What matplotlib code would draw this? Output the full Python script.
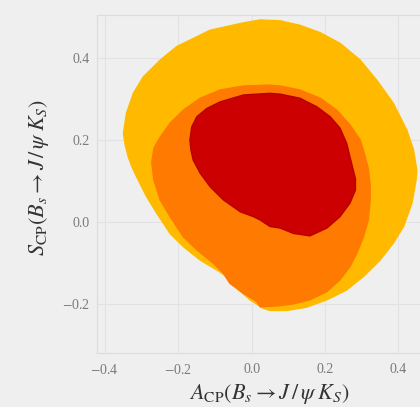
import numpy as np
import matplotlib
matplotlib.use("Agg")
from matplotlib import pyplot as plt

# contour outlines, as (A_CP, S_CP) pairs, clockwise
outer_x = [0.023, 0.078, 0.132, 0.187, 0.241, 0.296, 0.341, 0.386, 0.423, 0.441, 0.450, 0.448, 0.437,
           0.414, 0.386, 0.350, 0.305, 0.259, 0.205, 0.150, 0.096, 0.050, 0.032, -0.004, -0.040, -0.068,
           -0.095, -0.140, -0.186, -0.222, -0.258, -0.286, -0.313, -0.326, -0.336, -0.344, -0.349, -0.341,
           -0.322, -0.295, -0.249, -0.204, -0.113, -0.022]
outer_y = [0.493, 0.491, 0.480, 0.462, 0.436, 0.395, 0.346, 0.290, 0.224, 0.176, 0.127, 0.102, 0.046,
           -0.011, -0.052, -0.093, -0.133, -0.166, -0.190, -0.208, -0.216, -0.216, -0.211, -0.190, -0.162,
           -0.133, -0.117, -0.093, -0.060, -0.028, 0.021, 0.062, 0.110, 0.135, 0.159, 0.187, 0.216, 0.265,
           0.314, 0.354, 0.395, 0.428, 0.468, 0.486]

mid_x = [-0.022, 0.050, 0.078, 0.132, 0.187, 0.232, 0.268, 0.296, 0.308, 0.318, 0.323, 0.323, 0.318,
         0.305, 0.287, 0.268, 0.241, 0.205, 0.159, 0.114, 0.069, 0.023, 0.014, -0.022, -0.059, -0.077,
         -0.104, -0.149, -0.186, -0.222, -0.249, -0.266, -0.272, -0.266, -0.249, -0.222, -0.186, -0.140,
         -0.086]
mid_y = [0.332, 0.334, 0.332, 0.322, 0.302, 0.273, 0.237, 0.200, 0.165, 0.130, 0.090, 0.054, 0.005,
         -0.036, -0.076, -0.109, -0.141, -0.170, -0.190, -0.200, -0.205, -0.207, -0.194, -0.174, -0.150,
         -0.125, -0.101, -0.068, -0.036, 0.013, 0.054, 0.102, 0.145, 0.180, 0.207, 0.241, 0.273, 0.302,
         0.322]

inner_x = [-0.022, 0.050, 0.078, 0.132, 0.178, 0.214, 0.241, 0.259, 0.268, 0.277, 0.283, 0.283, 0.268,
           0.241, 0.205, 0.159, 0.114, 0.078, 0.050, 0.023, 0.005, -0.031, -0.077, -0.113, -0.140, -0.159,
           -0.165, -0.168, -0.163, -0.149, -0.122, -0.086]
inner_y = [0.310, 0.314, 0.312, 0.302, 0.281, 0.257, 0.229, 0.192, 0.159, 0.127, 0.105, 0.078, 0.046,
           0.013, -0.015, -0.034, -0.028, -0.015, -0.011, 0.005, 0.013, 0.025, 0.054, 0.086, 0.119, 0.151,
           0.175, 0.200, 0.232, 0.257, 0.277, 0.293]

xticks = [-0.4, -0.2, 0.0, 0.2, 0.4]
yticks = [-0.2, 0.0, 0.2, 0.4]

plt.rcParams['font.family'] = ['Liberation Serif', 'DejaVu Serif']
plt.rcParams['mathtext.fontset'] = 'stix'

bg = '#efeff0'
fig = plt.figure(figsize=(4.2, 4.07), dpi=100, facecolor=bg)
ax = fig.add_axes([0.231, 0.133, 0.819, 0.830], facecolor=bg)

ax.fill(outer_x, outer_y, color='#ffba00', lw=1, joinstyle='round', zorder=2)
ax.fill(mid_x, mid_y, color='#ff7a00', lw=1, joinstyle='round', zorder=3)
ax.fill(inner_x, inner_y, facecolor='#cc0000', edgecolor='#b80000', lw=1, joinstyle='round', zorder=4)

ax.set_xlim(-0.421, 0.516)
ax.set_ylim(-0.3195, 0.505)
ax.set_xticks(xticks)
ax.set_yticks(yticks)
ax.set_xticklabels(['$-$0.4', '$-$0.2', '0.0', '0.2', '0.4'])
ax.set_yticklabels(['$-$0.2', '0.0', '0.2', '0.4'])
ax.tick_params(length=0, labelsize=10, labelcolor='#7a7a7a')
ax.tick_params(axis='x', pad=7)
ax.tick_params(axis='y', pad=5)
ax.grid(True, color='#e2e2e4', lw=0.8, zorder=0)
for s in ax.spines.values():
    s.set_color('#dcdcde')
    s.set_linewidth(0.8)

ax.set_xlabel(r'$A_{\rm CP}(B_s \to J\,/\,\psi\;K_S)$', fontsize=16, color='#333333', labelpad=4)
ax.set_ylabel(r'$S_{\rm CP}(B_s \to J\,/\,\psi\;K_S)$', fontsize=16, color='#333333')
ax.yaxis.set_label_coords(-0.135, 0.518)

fig.savefig('out.png', dpi=100, facecolor=bg)
